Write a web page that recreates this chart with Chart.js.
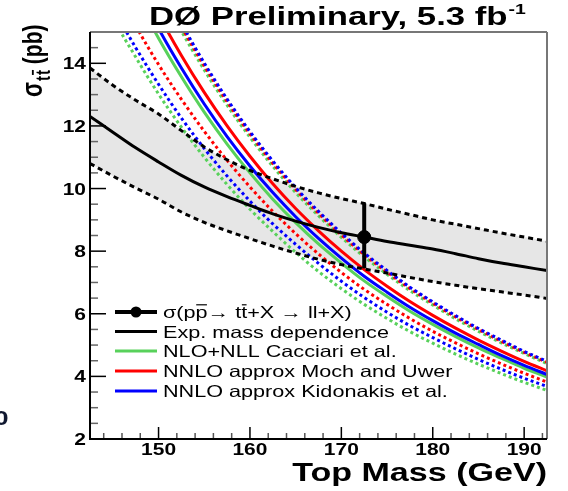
<!DOCTYPE html>
<html>
<head>
<meta charset="utf-8">
<script src="https://cdn.jsdelivr.net/npm/chart.js@4.4.1/dist/chart.umd.min.js"></script>
<style>
html, body { margin: 0; padding: 0; background: #fff; }
canvas { display: block; }
</style>
</head>
<body>
<canvas id="xsec-chart" width="568" height="491"></canvas>
<script>
// top quark mass grid (GeV)
const mass = [142.5, 145, 147.5, 150, 152.5, 155, 157.5, 160, 162.5, 165, 167.5, 170, 172.5, 175, 177.5, 180, 182.5, 185, 187.5, 190, 192.5];

// measured cross section vs assumed mass, with its band (pb)
const expCentral = [12.3, 11.8, 11.3, 10.85, 10.42, 10.05, 9.74, 9.46, 9.19, 8.96, 8.76, 8.59, 8.45, 8.31, 8.19, 8.07, 7.92, 7.76, 7.62, 7.5, 7.38];
const expUpper = [13.85, 13.3, 12.82, 12.38, 11.85, 11.33, 10.92, 10.58, 10.31, 10.07, 9.86, 9.68, 9.52, 9.34, 9.17, 9.0, 8.86, 8.72, 8.58, 8.45, 8.32];
const expLower = [10.8, 10.4, 10.02, 9.66, 9.25, 8.92, 8.65, 8.40, 8.16, 7.94, 7.74, 7.57, 7.43, 7.30, 7.16, 7.03, 6.91, 6.80, 6.70, 6.60, 6.49];

// theory predictions (pb)
const cacciari = [19.33, 17.71, 16.18, 14.80, 13.57, 12.44, 11.42, 10.50, 9.66, 8.91, 8.23, 7.62, 7.05, 6.55, 6.08, 5.66, 5.27, 4.91, 4.58, 4.26, 3.98];
const cacciariUp = [21.4, 19.6, 17.9, 16.4, 15.03, 13.79, 12.66, 11.64, 10.71, 9.87, 9.13, 8.44, 7.82, 7.26, 6.74, 6.28, 5.84, 5.44, 5.07, 4.73, 4.41];
const cacciariDown = [17.4, 15.5, 14.2, 13.02, 11.96, 11.0, 10.13, 9.34, 8.63, 7.96, 7.35, 6.80, 6.30, 5.85, 5.43, 5.06, 4.71, 4.39, 4.09, 3.81, 3.55];
const moch = [20.3, 18.6, 17.0, 15.55, 14.25, 13.07, 12.0, 11.03, 10.15, 9.36, 8.65, 8.0, 7.41, 6.88, 6.39, 5.95, 5.54, 5.16, 4.81, 4.48, 4.18];
const mochUp = [21.6, 19.8, 18.1, 16.56, 15.18, 13.92, 12.78, 11.75, 10.81, 9.97, 9.21, 8.52, 7.89, 7.33, 6.81, 6.34, 5.90, 5.50, 5.12, 4.77, 4.45];
const mochDown = [18.1, 16.6, 15.2, 13.96, 12.85, 11.83, 10.90, 10.05, 9.27, 8.56, 7.91, 7.32, 6.78, 6.30, 5.85, 5.44, 5.07, 4.72, 4.40, 4.10, 3.82];
const kidonakis = [19.7, 18.08, 16.52, 15.11, 13.85, 12.70, 11.66, 10.72, 9.87, 9.10, 8.41, 7.78, 7.20, 6.69, 6.21, 5.78, 5.38, 5.02, 4.67, 4.35, 4.06];
const kidonakisUp = [21.8, 19.9, 18.2, 16.67, 15.28, 14.01, 12.86, 11.82, 10.88, 10.03, 9.27, 8.58, 7.94, 7.38, 6.85, 6.38, 5.94, 5.53, 5.16, 4.80, 4.48];
const kidonakisDown = [17.2, 15.78, 14.5, 13.33, 12.25, 11.28, 10.40, 9.60, 8.87, 8.22, 7.61, 7.04, 6.52, 6.05, 5.62, 5.24, 4.88, 4.54, 4.23, 3.94, 3.68];

// dilepton measurement
const measMass = [172.5];
const measXsec = [8.45];
const measErrLow = [7.45];
const measErrHigh = [9.53];

const xTicks = [150, 160, 170, 180, 190];
const yTicks = [2, 4, 6, 8, 10, 12, 14];

const legendLabels = ['σ(pp\u0305→ tt\u0305+X → ll+X)', 'Exp. mass dependence', 'NLO+NLL Cacciari et al.', 'NNLO approx Moch and Uwer', 'NNLO approx Kidonakis et al.'];

const GREEN = '#58d15b', RED = '#ff0000', BLUE = '#0000ff', BAND = '#e6e6e6';
const legendColors = ['#000', '#000', GREEN, RED, BLUE];

const FONT = '"Liberation Sans", Arial, Helvetica, sans-serif';
const SX = 1.31; // the original picture is stretched sideways

function pts(ys) {
    return mass.map((m, i) => ({x: m, y: ys[i]}));
}
function curve(ys, color, dash, order) {
    return {
        data: pts(ys),
        borderColor: color,
        borderWidth: 3,
        borderDash: dash,
        borderCapStyle: 'butt',
        cubicInterpolationMode: 'monotone',
        pointRadius: 0,
        fill: false,
        clip: 0,
        order: order
    };
}

const datasets = [
    {   // point
        data: [{x: measMass[0], y: measXsec[0]}],
        showLine: false, pointRadius: 6.5, pointBackgroundColor: '#000', pointBorderColor: '#000', order: 0
    },
    {   // error bar
        data: [{x: measMass[0], y: measErrLow[0]}, {x: measMass[0], y: measErrHigh[0]}],
        borderColor: '#000', borderWidth: 4, pointRadius: 0, tension: 0, order: 1
    },
    curve(expCentral, '#000', [], 2),
    curve(expUpper, '#000', [5, 4], 3),
    curve(expLower, '#000', [5, 4], 4),
    curve(moch, RED, [], 5),
    curve(kidonakis, BLUE, [], 6),
    curve(cacciari, GREEN, [], 7),
    curve(kidonakisUp, BLUE, [3, 3], 8),
    curve(mochUp, RED, [3, 3], 9),
    curve(cacciariUp, GREEN, [3, 3], 10),
    curve(mochDown, RED, [3, 3], 11),
    curve(kidonakisDown, BLUE, [3, 3], 12),
    curve(cacciariDown, GREEN, [3, 3], 13)
];
// grey band between the dashed lines
datasets[3].fill = {target: 4};
datasets[3].backgroundColor = BAND;

// text with sideways stretch; a char followed by U+0305 gets a bar
function drawLabel(ctx, s, x, y, size, weight, align, color, sx) {
    sx = sx || SX;
    ctx.save();
    ctx.font = weight + ' ' + size + 'px ' + FONT;
    const runs = [];
    for (let i = 0; i < s.length; i++) {
        const ch = s[i];
        if (ch === '\u0305') continue;
        const bar = s[i + 1] === '\u0305';
        const last = runs[runs.length - 1];
        if (last && !last.bar && !bar) last.t += ch;
        else runs.push({t: ch, bar: bar});
    }
    let w = 0;
    runs.forEach(r => { r.w = ctx.measureText(r.t).width; w += r.w; });
    let x0 = x;
    if (align === 'center') x0 = x - w * sx / 2;
    else if (align === 'right') x0 = x - w * sx;
    ctx.translate(x0, y);
    ctx.scale(sx, 1);
    ctx.fillStyle = color || '#000';
    ctx.strokeStyle = color || '#000';
    ctx.lineWidth = 1.2;
    let cx = 0;
    runs.forEach(r => {
        ctx.fillText(r.t, cx, 0);
        if (r.bar) {
            ctx.beginPath();
            ctx.moveTo(cx + 0.5, -size * 0.8);
            ctx.lineTo(cx + r.w - 0.5, -size * 0.8);
            ctx.stroke();
        }
        cx += r.w;
    });
    ctx.restore();
    return w * sx;
}

function seg(ctx, x1, y1, x2, y2) {
    ctx.beginPath();
    ctx.moveTo(x1, y1);
    ctx.lineTo(x2, y2);
    ctx.stroke();
}

const decor = {
    id: 'decor',
    beforeDraw(chart) {
        const ctx = chart.ctx;
        ctx.save();
        ctx.fillStyle = '#fff';
        ctx.fillRect(0, 0, chart.width, chart.height);
        ctx.restore();
    },
    afterDraw(chart) {
        const {ctx, chartArea: a, scales: {x, y}} = chart;
        ctx.save();

        // tick marks, pointing inwards
        ctx.lineWidth = 1.5;
        for (let v = 144; v <= 192; v += 2) {
            const px = x.getPixelForValue(v);
            const major = xTicks.includes(v);
            ctx.strokeStyle = major ? '#000' : '#555';
            seg(ctx, px, a.bottom, px, a.bottom - (major ? 12 : 6));
        }
        for (let v = 2.5; v < 15; v += 0.5) {
            const py = y.getPixelForValue(v);
            const major = yTicks.includes(v);
            ctx.strokeStyle = major ? '#000' : '#666';
            seg(ctx, a.left, py, a.left + (major ? 16 : 8), py);
        }

        // frame
        ctx.lineWidth = 2;
        ctx.strokeStyle = '#777';
        seg(ctx, a.left, a.top, a.right, a.top);
        seg(ctx, a.right, a.top, a.right, a.bottom);
        ctx.strokeStyle = '#000';
        seg(ctx, a.left, a.top, a.left, a.bottom + 1);
        seg(ctx, a.left - 1, a.bottom, a.right, a.bottom);

        // tick labels
        xTicks.forEach(v => drawLabel(ctx, String(v), x.getPixelForValue(v), 455, 16, 'bold', 'center'));
        yTicks.forEach(v => drawLabel(ctx, String(v), 86, y.getPixelForValue(v) + 6, 16, 'bold', 'right'));

        // titles
        const w = drawLabel(ctx, 'DØ Preliminary, 5.3 fb', 149, 25, 25, 'bold', 'left', '#000', 1.39);
        drawLabel(ctx, '-1', 149 + w + 1, 14, 14, 'bold', 'left', '#000', 1.39);
        drawLabel(ctx, 'Top Mass (GeV)', 547, 481, 26, 'bold', 'right');

        // y title, rotated
        ctx.save();
        ctx.translate(42, 97);
        ctx.rotate(-Math.PI / 2);
        ctx.scale(1, SX);
        ctx.fillStyle = '#000';
        ctx.strokeStyle = '#000';
        ctx.font = 'bold 22px ' + FONT;
        ctx.fillText('σ', 0, 0);
        let cx = ctx.measureText('σ').width + 1;
        ctx.font = 'bold 15px ' + FONT;
        const tw = ctx.measureText('t').width;
        ctx.fillText('t', cx, 6);
        ctx.fillText('t', cx + tw + 1, 6);
        ctx.lineWidth = 1.4;
        seg(ctx, cx + tw + 1, 6 - 13, cx + 2 * tw + 1, 6 - 13);
        cx += 2 * tw + 1;
        ctx.font = 'bold 21px ' + FONT;
        ctx.fillText(' (pb)', cx, 0);
        ctx.restore();

        // stray digit from the neighbouring panel
        drawLabel(ctx, '0', -6, 425, 20, 'bold', 'left', '#101830');

        // legend
        const rows = [312, 331.5, 351, 371, 391];
        rows.forEach((ry, i) => {
            ctx.strokeStyle = legendColors[i];
            ctx.lineWidth = i === 0 ? 4 : 3;
            seg(ctx, 115, ry, 157, ry);
            if (i === 0) {
                ctx.fillStyle = '#000';
                ctx.beginPath();
                ctx.arc(136, ry, 5.5, 0, Math.PI * 2);
                ctx.fill();
            }
            drawLabel(ctx, legendLabels[i], 163, ry + 6, 16.5, 'normal', 'left');
        });

        ctx.restore();
    }
};

new Chart('xsec-chart', {
    type: 'line',
    data: { datasets: datasets },
    options: {
        responsive: false,
        animation: false,
        devicePixelRatio: 1,
        layout: { padding: { left: 0, top: 32, right: 21, bottom: 0 } },
        plugins: {
            legend: { display: false },
            tooltip: { enabled: false },
            filler: { drawTime: 'beforeDatasetsDraw' }
        },
        scales: {
            x: {
                type: 'linear', min: 142.5, max: 192.5,
                grid: { display: false }, border: { display: false },
                ticks: { display: false },
                afterFit: s => { s.height = 52; }
            },
            y: {
                type: 'linear', min: 2, max: 15,
                grid: { display: false }, border: { display: false },
                ticks: { display: false },
                afterFit: s => { s.width = 90; }
            }
        }
    },
    plugins: [decor]
});
</script>
</body>
</html>
